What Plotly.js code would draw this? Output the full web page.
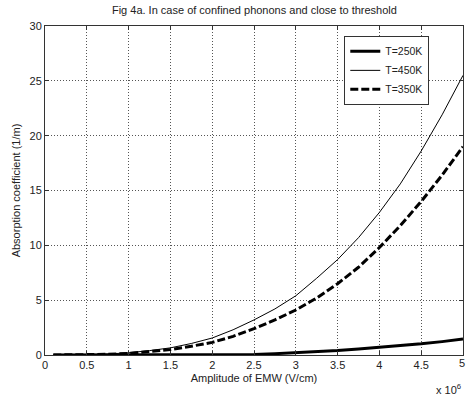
<!DOCTYPE html>
<html>
<head>
<meta charset="utf-8">
<script src="https://cdn.plot.ly/plotly-3.0.1.min.js"></script>
<style>html,body{margin:0;padding:0;background:#fff;overflow:hidden;}#chart{width:466px;height:395px;}</style>
</head>
<body>
<div id="chart"></div>
<script>
// Amplitude of EMW, in units of 10^6 V/cm
const amplitude = [0.1, 0.25, 0.5, 0.75, 1, 1.25, 1.5, 1.75, 2, 2.25, 2.5, 2.75, 3, 3.25, 3.5, 3.75, 4, 4.25, 4.5, 4.75, 5];
const absorption250K = [0, 0, 0, 0, 0, 0, 0, 0, 0, 0.01, 0.05, 0.12, 0.2, 0.3, 0.4, 0.55, 0.7, 0.85, 1.02, 1.22, 1.45];
const absorption450K = [0, 0, 0.03, 0.09, 0.2, 0.4, 0.65, 1.05, 1.55, 2.3, 3.2, 4.2, 5.4, 7.0, 8.7, 10.7, 13.0, 15.6, 18.6, 21.9, 25.5];
const absorption350K = [0, 0, 0.02, 0.06, 0.15, 0.3, 0.5, 0.8, 1.15, 1.7, 2.4, 3.2, 4.1, 5.2, 6.5, 8.0, 9.8, 11.8, 14.0, 16.4, 19.0];
const seriesNames = ["T=250K", "T=450K", "T=350K"];
const xTicks = [0, 0.5, 1, 1.5, 2, 2.5, 3, 3.5, 4, 4.5, 5];
const xTickLabels = ["0", "0.5", "1", "1.5", "2", "2.5", "3", "3.5", "4", "4.5", "5"];
const yTicks = [0, 5, 10, 15, 20, 25, 30];

const font = {family: "Liberation Sans, Arial, sans-serif", size: 11, color: "#222"};

const traces = [
  {x: amplitude, y: absorption250K, name: seriesNames[0], mode: "lines", line: {color: "#000", width: 3}},
  {x: amplitude, y: absorption450K, name: seriesNames[1], mode: "lines", line: {color: "#000", width: 1}},
  {x: amplitude, y: absorption350K, name: seriesNames[2], mode: "lines", line: {color: "#000", width: 3, dash: "8px,3px"}}
];

const axisCommon = {
  showline: true, mirror: "ticks", linecolor: "#333", linewidth: 1,
  ticks: "inside", ticklen: 4, tickcolor: "#333",
  showgrid: true, gridcolor: "#555", griddash: "1px,2px", gridwidth: 1,
  zeroline: false, tickfont: font
};

// the last x tick label sits on the window edge, where Plotly drops it; it is drawn as an annotation
const lastIdx = xTicks.length - 1;
const axisXLabels = xTickLabels.map((t, i) => i === lastIdx ? "" : t);

const layout = {
  width: 466, height: 395,
  margin: {l: 45, r: 3, t: 26, b: 40},
  paper_bgcolor: "#fff", plot_bgcolor: "#fff",
  font: font,
  title: {text: "Fig 4a. In case of confined phonons and close to threshold", font: {family: font.family, size: 11, color: "#222"}, x: 0.546, xanchor: "center", y: 0.985, yanchor: "top"},
  xaxis: Object.assign({}, axisCommon, {range: [0, 5], tickvals: xTicks, ticktext: axisXLabels,
    title: {text: "Amplitude of EMW (V/cm)", font: font, standoff: 4}}),
  yaxis: Object.assign({}, axisCommon, {range: [0, 30], tickvals: yTicks,
    title: {text: "Absorption coefficient (1/m)", font: font, standoff: 6}}),
  showlegend: true,
  legend: {x: 0.716, y: 0.97, xanchor: "left", yanchor: "top", bgcolor: "#fff", bordercolor: "#333", borderwidth: 1,
    font: {family: font.family, size: 10.5, color: "#222"}, tracegroupgap: 0, itemwidth: 30},
  annotations: [
    {text: "x 10<sup>6</sup>", xref: "paper", yref: "paper", x: 1.0, y: -0.075, xanchor: "right", yanchor: "top", showarrow: false, font: font},
    {text: xTickLabels[lastIdx], xref: "paper", yref: "paper", x: 1.0, y: 0, xanchor: "right", xshift: 3, yanchor: "top", yshift: -1, showarrow: false, font: font, borderpad: 0}
  ]
};

Plotly.newPlot("chart", traces, layout, {displayModeBar: false, staticPlot: true});
</script>
</body>
</html>
